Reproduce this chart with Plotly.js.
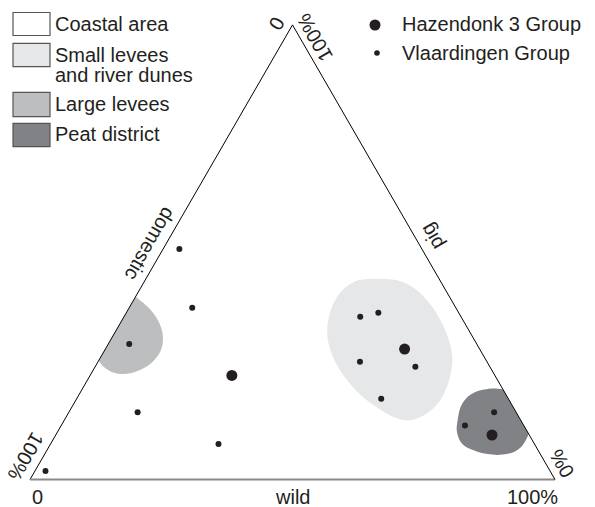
<!DOCTYPE html>
<html><head><meta charset="utf-8">
<script src="https://cdn.plot.ly/plotly-3.0.1.min.js"></script>
<style>html,body{margin:0;padding:0;background:#fff}#chart{width:595px;height:507px}</style>
</head><body><div id="chart"></div>
<script>
// Components: pig (top vertex), domestic (bottom-left), wild (bottom-right), in %
const hazPig = [22.9, 28.7, 9.8];
const hazDomestic = [50.1, 14.3, 7.1];
const hazWild = [27.0, 57.0, 83.1];

const vlaPig = [50.7, 37.8, 29.8, 14.8, 7.8, 1.9, 35.8, 36.7, 25.9, 24.8, 17.8, 14.8, 11.9];
const vlaDomestic = [46.2, 50.2, 66.2, 72.1, 60.2, 96.1, 19.2, 15.3, 24.2, 14.2, 24.2, 4.2, 11.2];
const vlaWild = [3.1, 12.0, 4.0, 13.1, 32.0, 2.0, 45.0, 48.0, 49.9, 61.0, 58.0, 81.0, 76.9];

// Region outlines (pig, domestic, wild)
const smallPig = [44.1, 43.4, 38.6, 29.8, 24.7, 17.4, 13.7, 13.1, 15.9, 21.1, 27.6, 33.5, 40.1, 43.4];
const smallDomestic = [13.2, 7.2, 4.5, 5.1, 7.3, 13.2, 18.9, 22.3, 26.0, 28.5, 28.7, 26.6, 21.5, 16.7];
const smallWild = [42.7, 49.4, 56.9, 65.1, 68.0, 69.4, 67.4, 64.6, 58.1, 50.4, 43.7, 39.9, 38.4, 39.9];

const largePig = [41.6, 39.4, 37.4, 35.0, 32.1, 29.0, 26.2, 24.1, 23.2, 24.2, 26.6, 31.7, 38.3];
const largeDomestic = [61.1, 59.3, 58.4, 58.1, 58.7, 60.4, 63.3, 67.0, 70.9, 73.2, 73.9, 73.7, 66.6];
const largeWild = [-2.7, 1.3, 4.2, 6.9, 9.2, 10.6, 10.5, 8.9, 5.9, 2.6, -0.5, -5.4, -4.9];

const peatPig = [13.4, 16.5, 18.7, 19.8, 20.0, 19.1, 12.5, 8.1, 6.3, 5.5, 5.6, 6.4, 7.7, 10.3];
const peatDomestic = [11.8, 9.5, 6.7, 3.6, 0.9, -1.4, -1.5, 1.8, 4.3, 7.2, 10.0, 12.2, 13.7, 13.5];
const peatWild = [74.8, 74.0, 74.6, 76.6, 79.1, 82.3, 89.0, 90.1, 89.4, 87.3, 84.4, 81.4, 78.6, 76.2];

const regionNames = ['Coastal area', 'Small levees', 'and river dunes', 'Large levees', 'Peat district'];
const groupNames = ['Hazendonk 3 Group', 'Vlaardingen Group'];
const axisNames = ['pig', 'domestic', 'wild'];
const tickTexts = ['0', '100%', '0%'];

const FONT = 'Liberation Sans, Arial, Helvetica, sans-serif';
const INK = '#231f20';
const closeArr = arr => arr.concat([arr[0]]);

function region(a, b, c, color) {
  return {
    type: 'scatterternary', mode: 'lines',
    a: closeArr(a), b: closeArr(b), c: closeArr(c),
    fill: 'toself', fillcolor: color,
    line: {shape: 'spline', smoothing: 1.1, width: 0, color: color},
    hoverinfo: 'skip', showlegend: false
  };
}

const traces = [
  region(smallPig, smallDomestic, smallWild, '#e6e7e8'),
  region(largePig, largeDomestic, largeWild, '#bcbec0'),
  region(peatPig, peatDomestic, peatWild, '#808285'),
  {type: 'scatterternary', mode: 'markers', name: groupNames[1],
   a: vlaPig, b: vlaDomestic, c: vlaWild,
   marker: {size: 6, color: INK}, showlegend: false},
  {type: 'scatterternary', mode: 'markers', name: groupNames[0],
   a: hazPig, b: hazDomestic, c: hazWild,
   marker: {size: 11, color: INK}, showlegend: false}
];

const W = 595, H = 507;
const px = x => x / W, py = y => 1 - y / H;

function ann(text, x, y, angle, anchor) {
  return {text: text, x: px(x), y: py(y), xref: 'paper', yref: 'paper',
    showarrow: false, textangle: angle || 0, xanchor: anchor || 'center', yanchor: 'middle',
    font: {family: FONT, size: 20, color: INK}};
}

const annotations = [
  ann(tickTexts[0], 37, 497, 0),
  ann(axisNames[2], 292, 497, 0),
  ann(tickTexts[1], 532, 497, 0),
  ann(tickTexts[1], 26, 456, 120),
  ann(tickTexts[0], 277, 23, 120),
  ann(axisNames[1], 150, 244, 120),
  ann(tickTexts[1], 315, 38, -120),
  ann(tickTexts[2], 562, 464, -120),
  ann(axisNames[0], 432, 237, -120),
  ann(regionNames[0], 53, 24, 0, 'left'),
  ann(regionNames[1], 53, 55, 0, 'left'),
  ann(regionNames[2], 53, 75, 0, 'left'),
  ann(regionNames[3], 53, 104, 0, 'left'),
  ann(regionNames[4], 53, 134, 0, 'left'),
  ann(groupNames[0], 400, 24, 0, 'left'),
  ann(groupNames[1], 400, 53, 0, 'left')
];

function box(y0, y1, color) {
  return {type: 'rect', xref: 'paper', yref: 'paper',
    x0: px(13), x1: px(50), y0: py(y0), y1: py(y1),
    fillcolor: color, line: {color: '#555', width: 1.2}};
}
function dot(cx, cy, r) {
  return {type: 'circle', xref: 'paper', yref: 'paper',
    x0: px(cx - r), x1: px(cx + r), y0: py(cy - r), y1: py(cy + r),
    fillcolor: INK, line: {width: 0}};
}

const shapes = [
  box(12.5, 35.5, '#ffffff'),
  box(43.3, 66.7, '#e6e7e8'),
  box(92.3, 116.7, '#bcbec0'),
  box(123.3, 146.7, '#808285'),
  dot(375, 25, 5.5),
  dot(377, 53, 2.8)
];

const hiddenAxis = {showticklabels: false, ticks: '', showgrid: false, title: {text: ''}, linecolor: '#000', linewidth: 1};

const layout = {
  width: W, height: H,
  margin: {l: 0, r: 0, t: 0, b: 0},
  paper_bgcolor: '#fff',
  showlegend: false,
  ternary: {
    sum: 100,
    domain: {x: [30 / W, 555 / W], y: [0.04, 0.965]},
    bgcolor: '#fff',
    aaxis: Object.assign({}, hiddenAxis),
    baxis: Object.assign({}, hiddenAxis, {linecolor: '#8a8a8a', linewidth: 2}),
    caxis: Object.assign({}, hiddenAxis)
  },
  annotations: annotations,
  shapes: shapes
};

Plotly.newPlot('chart', traces, layout, {displayModeBar: false, staticPlot: true});
</script></body></html>
